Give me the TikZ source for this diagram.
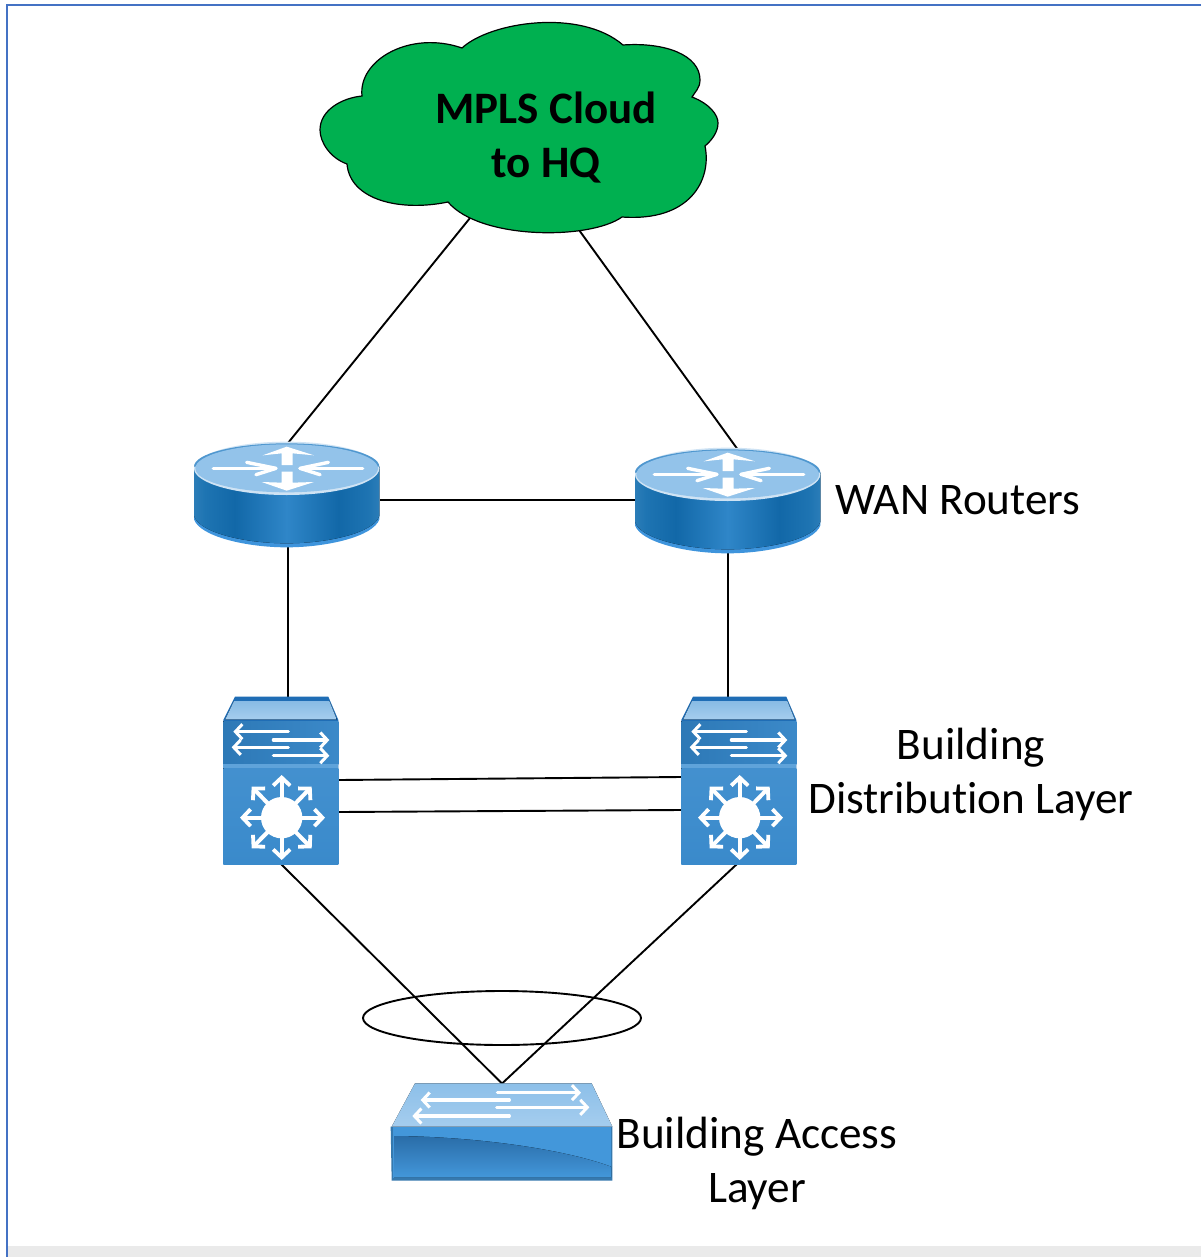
\documentclass[tikz,border=0pt]{standalone}
\usepackage{fontspec}
\setmainfont[RawFeature=-liga]{Carlito}
\usetikzlibrary{arrows.meta,shapes.geometric}
\definecolor{rb1}{HTML}{2B7DB8}
\definecolor{rb2}{HTML}{1E74B2}
\definecolor{rb3}{HTML}{1268A8}
\definecolor{rb4}{HTML}{2F86C8}
\pgfdeclarehorizontalshading{routerbody}{100bp}{
  color(0bp)=(rb1);color(25bp)=(rb1);color(28bp)=(rb2);color(36bp)=(rb3);color(50bp)=(rb4);
  color(64bp)=(rb3);color(72bp)=(rb2);color(75bp)=(rb1);color(100bp)=(rb1)}
\definecolor{rim}{HTML}{3E94DC}
\definecolor{rimlight}{HTML}{CFE3F4}
\definecolor{topblue}{HTML}{93C3EA}
\definecolor{topedge}{HTML}{4F97CF}
\definecolor{swdark}{HTML}{1F6DB5}
\definecolor{swmid}{HTML}{3183C6}
\definecolor{swlow}{HTML}{3A8ACB}
\definecolor{swsep}{HTML}{5FA3DA}
\definecolor{swlight}{HTML}{A5CDEE}
\definecolor{acdark}{HTML}{2A6DA8}
\definecolor{acmid}{HTML}{4397DA}
\definecolor{cloudgreen}{HTML}{00B050}
\definecolor{framecol}{HTML}{4472C4}
\definecolor{bandcol}{HTML}{EAEAEA}
\tikzset{
  link/.style={draw=black,line width=0.95pt},
  port/.style={inner sep=0pt,outer sep=0pt,minimum width=#1},
  plainlabel/.style={inner sep=0pt,align=center,text=black,font=\fontsize{22.6}{27}\selectfont},
  boldlabel/.style={inner sep=0pt,align=center,text=black,font=\fontsize{22.5}{27}\selectfont\bfseries},
  whitearrow/.style={draw=white,line width=1.6pt,line cap=round,line join=round},
  whitehead/.style={whitearrow,-{Straight Barb[length=3.5pt,width=7.5pt,line width=1.5pt]}},
  zoomed/.style={x=0.16667pt,y=-0.16667pt}
}
\newcommand{\routerart}[2]{%
  \begin{scope}[shift={(#1,#2)},zoomed]
    \fill[rim] (42,110) -- (42,268) .. controls (60,320) and (200,352) .. (320,352)
      .. controls (440,352) and (580,320) .. (598,268) -- (598,110) -- cycle;
    \fill[shading=routerbody] (42,110) -- (42,258) .. controls (60,310) and (200,340) .. (320,340)
      .. controls (440,340) and (580,310) .. (598,258) -- (598,110) -- cycle;
    \fill[rimlight] (320,115) ellipse [x radius=278,y radius=80];
    \fill[topedge] (320,40) .. controls (170,40) and (42,70) .. (42,110) -- (598,110)
      .. controls (598,70) and (470,40) .. (320,40) -- cycle;
    \fill[topblue] (320,115) ellipse [x radius=274,y radius=72];
    \draw[whitearrow,line width=1.7pt] (100,115) -- (285,115);
    \draw[whitearrow,line width=1.7pt] (200,97) -- (288,115) -- (228,134);
    \draw[whitearrow,line width=1.7pt] (548,115) -- (360,115);
    \draw[whitearrow,line width=1.7pt] (445,97) -- (360,115) -- (420,134);
    \fill[white] (305,105) -- (305,70) -- (248,76) -- (320,50) -- (402,76) -- (338,70) -- (338,105) -- cycle;
    \fill[white] (305,125) -- (338,125) -- (338,158) -- (402,156) -- (320,182) -- (245,156) -- (305,158) -- cycle;
  \end{scope}}
\newcommand{\layerthreeart}[2]{%
  \begin{scope}[shift={(#1,#2)},zoomed]
    \fill[swdark] (75,35) -- (355,35) -- (385,105) -- (385,537) -- (40,537) -- (40,105) -- cycle;
    \fill[top color=swlight!75!swmid,bottom color=swlight] (72,48) -- (358,48) -- (380,103) -- (46,103) -- cycle;
    \fill[left color=swmid!92!black,right color=swmid!95!white] (40,108) rectangle (385,238);
    \fill[swsep] (40,238) rectangle (385,250);
    \fill[top color=swlow!75!swsep,bottom color=swlow] (40,250) rectangle (385,537);
    \draw[whitehead] (235,140) -- (70,140);
    \draw[whitehead] (190,165) -- (358,165);
    \draw[whitehead] (235,187) -- (65,187);
    \draw[whitehead] (190,212) -- (358,212);
    \fill[white] (215,398) circle [radius=62];
    \foreach \ex/\ey in {215/270,215/525,345/398,90/398,305/305,125/305,305/490,125/490}
      \draw[whitearrow,line width=2pt,-{Straight Barb[length=4pt,width=8.5pt,line width=1.9pt]}] (215,398) -- (\ex,\ey);
  \end{scope}}
\begin{document}
\begin{tikzpicture}[x=0.5pt,y=-0.5pt]
\useasboundingbox (0,0) rectangle (1201,1257);
% page frame
\fill[white] (0,0) rectangle (1201,1257);
\fill[bandcol] (8,1246) rectangle (1201,1257);
\draw[framecol,line width=1pt] (1201,5) -- (7,5) -- (7,1257);
% named nodes over the art
\node[port=199pt,minimum height=106.5pt] (cloud) at (519,126.5) {};
\node[port=93pt,minimum height=52pt] (r1) at (287,495) {};
\node[port=93pt,minimum height=52pt] (r2) at (728,500.5) {};
\node[port=58pt,minimum height=83.5pt] (d1) at (281,780.5) {};
\node[port=58pt,minimum height=83.5pt] (d2) at (739,780.5) {};
\node[port=110pt,minimum height=48.5pt] (a1) at (502,1132) {};
\coordinate (cloudL) at (470,218);
\coordinate (cloudR) at (579,230);
% connectors
\draw[link] (cloudL) -- ([xshift=0.5pt]r1.north);
\draw[link] (cloudR) -- ([xshift=4.5pt]r2.north);
\draw[link] ([yshift=-2.5pt]r1.east) -- ([yshift=0.25pt]r2.west);
\draw[link] ([xshift=0.5pt]r1.south) -- ([xshift=0.5pt]r1.south |- d1.north);
\draw[link] (r2.south) -- (r2.south |- d2.north);
\draw[link] ([yshift=0.25pt]d1.east) -- ([yshift=1.75pt]d2.west);
\draw[link] ([yshift=-15.75pt]d1.east) -- ([yshift=-14.75pt]d2.west);
\draw[link] (d1.south) -- (a1.north);
\draw[link] ([xshift=-1pt]d2.south) -- (a1.north);
\node[draw=black,line width=0.95pt,ellipse,inner sep=0pt,minimum width=139pt,minimum height=27pt] (bundle) at (502,1018) {};
% cloud
\draw[black,fill=cloudgreen,line width=0.6pt]
  (462,48) .. controls (490,22) and (580,8) .. (623,45)
  .. controls (665,42) and (700,55) .. (700,80)
  .. controls (700,88) and (695,92) .. (692,97)
  .. controls (710,104) and (718,115) .. (718,123)
  .. controls (718,132) and (712,140) .. (705,146)
  .. controls (712,180) and (690,222) .. (622,217)
  .. controls (590,240) and (480,240) .. (448,202)
  .. controls (400,212) and (350,200) .. (347,164)
  .. controls (330,158) and (320,142) .. (320,130)
  .. controls (320,110) and (342,98) .. (362,96)
  .. controls (358,60) and (410,30) .. (462,48) -- cycle;
% equipment
\routerart{180}{430}
\routerart{621}{436}
\layerthreeart{210}{685}
\layerthreeart{668}{685}
\begin{scope}[shift={(380,1070)},zoomed]
  \fill[acmid!80!black] (32,170) -- (35,332) -- (697,332) -- (697,170) -- cycle;
  \fill[top color=swlight!75!acmid,bottom color=swlight] (105,40) -- (635,40) -- (697,170) -- (35,170) -- cycle;
  \fill[acmid] (40,172) rectangle (693,325);
  \fill[top color=acdark,bottom color=acmid] 
    (42,198) .. controls (300,200) and (560,240) .. (693,290) -- (693,322) -- (42,322) -- cycle;
  \draw[whitehead] (352,68) -- (603,68);
  \draw[whitehead] (388,90) -- (122,90);
  \draw[whitehead] (350,112) -- (628,112);
  \draw[whitehead] (388,138) -- (97,138);
\end{scope}
% text
\node[boldlabel] (cloudtext) at (546,138) {MPLS Cloud\\to HQ};
\node[plainlabel] (wantext) at (958,500) {WAN Routers};
\node[plainlabel] (disttext) at (971,774) {Building\\Distribution Layer};
\node[plainlabel] (accesstext) at (757,1163) {Building Access\\Layer};
\end{tikzpicture}
\end{document}
